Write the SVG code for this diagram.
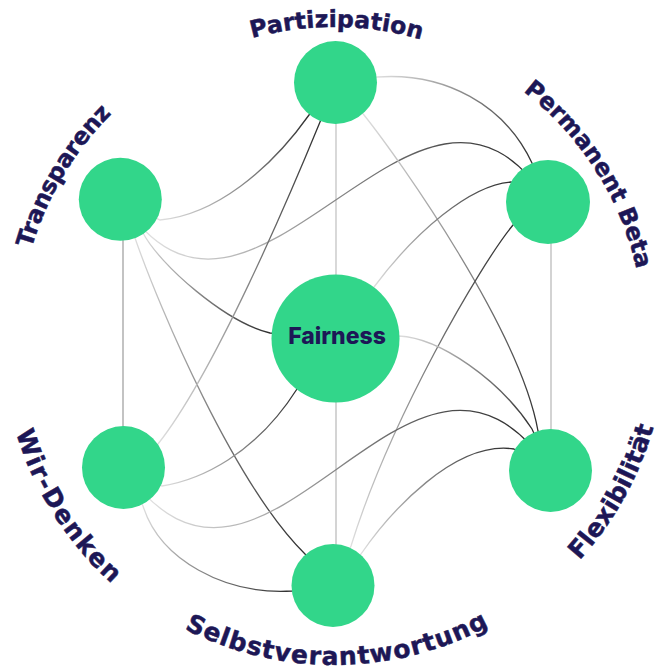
<svg xmlns="http://www.w3.org/2000/svg" width="658" height="672" viewBox="0 0 658 672">
<style>
.node{fill:#32d68a}
.edge{fill:none;stroke-width:1.3}
.vline{stroke-width:1.3}
.label{font-family:"DejaVu Sans",Inter,sans-serif;font-weight:700;font-size:23.5px;fill:#1d1756;stroke:#1d1756;stroke-width:0.5}
.label.b{font-size:25px}
.center{font-family:Inter,"Noto Sans",sans-serif;font-weight:800;font-size:23px;fill:#1d1756}
</style>
<defs>
<linearGradient id="gb"><stop offset="0" stop-color="#dedede"/><stop offset="1" stop-color="#2e2e2e"/></linearGradient>
<linearGradient id="g1" href="#gb" gradientUnits="userSpaceOnUse" x1="160" y1="220" x2="309" y2="115"/>
<linearGradient id="g2" href="#gb" gradientUnits="userSpaceOnUse" x1="377" y1="77" x2="532" y2="163"/>
<linearGradient id="g3" href="#gb" gradientUnits="userSpaceOnUse" x1="150" y1="230" x2="526" y2="167"/>
<linearGradient id="g4" href="#gb" gradientUnits="userSpaceOnUse" x1="143" y1="233" x2="270" y2="333"/>
<linearGradient id="g5" href="#gb" gradientUnits="userSpaceOnUse" x1="135" y1="238" x2="305" y2="554"/>
<linearGradient id="g6" href="#gb" gradientUnits="userSpaceOnUse" x1="158" y1="444" x2="320" y2="122"/>
<linearGradient id="g7" href="#gb" gradientUnits="userSpaceOnUse" x1="364" y1="115" x2="538" y2="431"/>
<linearGradient id="g8" href="#gb" gradientUnits="userSpaceOnUse" x1="374" y1="287" x2="511" y2="182"/>
<linearGradient id="g9" href="#gb" gradientUnits="userSpaceOnUse" x1="351" y1="546" x2="513" y2="225"/>
<linearGradient id="g10" href="#gb" gradientUnits="userSpaceOnUse" x1="399" y1="336" x2="532" y2="429"/>
<linearGradient id="g11" href="#gb" gradientUnits="userSpaceOnUse" x1="361" y1="554" x2="514" y2="449"/>
<linearGradient id="g12" href="#gb" gradientUnits="userSpaceOnUse" x1="162" y1="486" x2="297" y2="389"/>
<linearGradient id="g13" href="#gb" gradientUnits="userSpaceOnUse" x1="150" y1="499" x2="526" y2="436"/>
<linearGradient id="g14" href="#gb" gradientUnits="userSpaceOnUse" x1="143" y1="506" x2="292" y2="591"/>
<path id="arc-partizipation" d="M66.9,179.7 A310,310 0 0 1 603.8,184.4"/>
<path id="arc-permanent" d="M320.5,27.3 A310,310 0 0 1 609.0,480.1"/>
<path id="arc-transparenz" d="M59.3,491.2 A315,315 0 0 1 337.8,22.0"/>
<path id="arc-selbst" d="M51.7,503.9 A328,328 0 0 0 619.8,498.0"/>
<path id="arc-flex" d="M339.8,668.9 A332,332 0 0 0 618.6,166.0"/>
<path id="arc-wir" d="M39.5,183.7 A332,332 0 0 0 348.5,668.7"/>
</defs>
<rect width="658" height="672" fill="#ffffff"/>
<g id="connectors">
<line class="vline" x1="336" y1="82" x2="336" y2="338" stroke="#c4c4c4"/>
<line class="vline" x1="336" y1="338" x2="336" y2="585" stroke="#bdbdbd"/>
<line class="vline" x1="123" y1="199" x2="123" y2="467" stroke="#a3a3a3"/>
<line class="vline" x1="551" y1="202" x2="551" y2="470" stroke="#bcbcbc"/>
<path class="edge" stroke="url(#g1)" d="M120.3,199.3 L160,220 C215,215 270,170 309,115 L335.5,82.5"/>
<path class="edge" stroke="url(#g2)" d="M335.5,82.5 L377,77 C445,72 505,105 532,163 L548,202"/>
<path class="edge" stroke="url(#g3)" d="M120.3,199.3 C251,405 418,-3 548,202"/>
<path class="edge" stroke="url(#g4)" d="M120.3,199.3 L143,233 C160,265 225,322 270,333 L335.5,338"/>
<path class="edge" stroke="url(#g5)" d="M120.3,199.3 L135,238 C160,310 235,485 305,554 L333,585.5"/>
<path class="edge" stroke="url(#g6)" d="M335.5,82.5 L320,122 C290,195 215,372 158,444 L123.5,467.5"/>
<path class="edge" stroke="url(#g7)" d="M335.5,82.5 L364,115 C400,160 520,330 538,431 L550.5,470.5"/>
<path class="edge" stroke="url(#g8)" d="M548,202 L511,182 C470,185 415,232 374,287 L335.5,338"/>
<path class="edge" stroke="url(#g9)" d="M548,202 L513,225 C480,265 390,420 351,546 L333,585.5"/>
<path class="edge" stroke="url(#g10)" d="M335.5,338 L399,336 C440,338 500,380 532,429 L550.5,470.5"/>
<path class="edge" stroke="url(#g11)" d="M333,585.5 L361,554 C390,512 455,440 514,449 L550.5,470.5"/>
<path class="edge" stroke="url(#g12)" d="M123.5,467.5 L162,486 C200,480 255,455 297,389 L335.5,338"/>
<path class="edge" stroke="url(#g13)" d="M123.5,467.5 C263.5,674.5 410.5,263.5 550.5,470.5"/>
<path class="edge" stroke="url(#g14)" d="M123.5,467.5 L143,506 C160,560 225,595 292,591 L333,585.5"/>
</g>
<g id="node-fairness">
<circle class="node" cx="335.5" cy="338.5" r="64"/>
<text class="center" x="337" y="344" text-anchor="middle">Fairness</text>
</g>
<g id="node-partizipation">
<circle class="node" cx="335.5" cy="82.5" r="41.5"/>
<text class="label" letter-spacing="0.1"><textPath href="#arc-partizipation" startOffset="50%" text-anchor="middle">Partizipation</textPath></text>
</g>
<g id="node-permanent-beta">
<circle class="node" cx="548" cy="202" r="42"/>
<text class="label" letter-spacing="0"><textPath href="#arc-permanent" startOffset="50%" text-anchor="middle">Permanent Beta</textPath></text>
</g>
<g id="node-flexibilitaet">
<circle class="node" cx="550.5" cy="470.5" r="41.5"/>
<text class="label b" letter-spacing="0.2"><textPath href="#arc-flex" startOffset="50%" text-anchor="middle">Flexibilität</textPath></text>
</g>
<g id="node-selbstverantwortung">
<circle class="node" cx="333" cy="585.5" r="41.5"/>
<text class="label b" letter-spacing="1.0"><textPath href="#arc-selbst" startOffset="50%" text-anchor="middle">Selbstverantwortung</textPath></text>
</g>
<g id="node-wir-denken">
<circle class="node" cx="123.5" cy="467.5" r="41.5"/>
<text class="label b" letter-spacing="1.8"><textPath href="#arc-wir" startOffset="50%" text-anchor="middle">Wir-Denken</textPath></text>
</g>
<g id="node-transparenz">
<circle class="node" cx="120.3" cy="199.3" r="41.5"/>
<text class="label" letter-spacing="-0.4"><textPath href="#arc-transparenz" startOffset="50%" text-anchor="middle">Transparenz</textPath></text>
</g>
</svg>
